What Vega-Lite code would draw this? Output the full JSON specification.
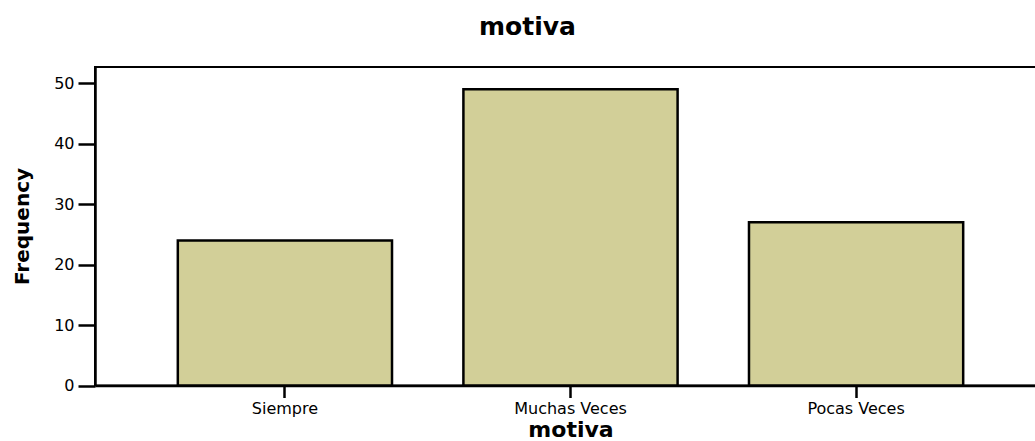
{
  "$schema": "https://vega.github.io/schema/vega-lite/v6.json",
  "autosize": "none",
  "padding": {"left": 95, "top": 67, "right": 0, "bottom": 56},
  "width": 951,
  "height": 318.5,
  "background": "white",
  "title": {
    "text": "motiva",
    "font": "DejaVu Sans",
    "fontSize": 25,
    "fontWeight": "bold",
    "color": "black",
    "anchor": "middle",
    "dx": -43,
    "baseline": "alphabetic",
    "offset": 7
  },
  "data": {
    "values": [
      {"motiva": "Siempre", "Frequency": 24},
      {"motiva": "Muchas Veces", "Frequency": 49},
      {"motiva": "Pocas Veces", "Frequency": 27}
    ]
  },
  "config": {
    "view": {"stroke": "black", "strokeWidth": 2},
    "axis": {
      "domainColor": "black",
      "domainWidth": 2.5,
      "tickColor": "black",
      "tickWidth": 2.5,
      "labelColor": "black",
      "labelFont": "DejaVu Sans",
      "labelFontSize": 16,
      "titleColor": "black",
      "titleFont": "DejaVu Sans",
      "titleFontWeight": "bold",
      "grid": false
    }
  },
  "mark": {"type": "bar", "fill": "#d2cf98", "stroke": "black", "strokeWidth": 2.5},
  "encoding": {
    "x": {
      "field": "motiva",
      "type": "nominal",
      "sort": ["Siempre", "Muchas Veces", "Pocas Veces"],
      "scale": {"paddingInner": 0.25, "paddingOuter": 0.29},
      "axis": {
        "title": "motiva",
        "titleFontSize": 22,
        "titleBaseline": "alphabetic",
        "titleY": 51,
        "labelAngle": 0,
        "tickSize": 12,
        "labelBaseline": "alphabetic",
        "labelPadding": 16
      }
    },
    "y": {
      "field": "Frequency",
      "type": "quantitative",
      "scale": {"domain": [0, 52.7], "nice": false},
      "axis": {
        "title": "Frequency",
        "titleFontSize": 20,
        "titleAngle": -90,
        "titleX": -73,
        "titleY": 159,
        "titleAlign": "center",
        "titleBaseline": "middle",
        "values": [0, 10, 20, 30, 40, 50],
        "tickSize": 17,
        "labelPadding": 4
      }
    }
  }
}
